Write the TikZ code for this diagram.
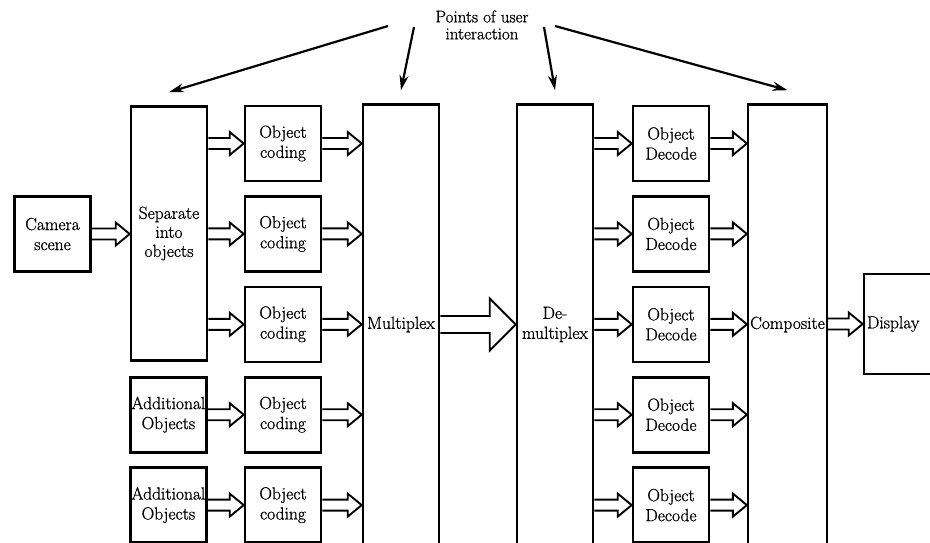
\documentclass[tikz,border=0pt]{standalone}
\usepackage{fontspec}
\newfontfamily\scanfont{Latin Modern Roman}[FakeBold=0.9]
\usepackage{tikz}
\usetikzlibrary{arrows.meta,positioning}

\begin{document}
\begin{tikzpicture}[
  x=1pt,y=-1pt,
  node distance=12.8pt and 36pt,
  >={Stealth[length=15pt,width=9pt]},
  box/.style={draw,line width=2.6pt,align=center,minimum width=76pt,
    minimum height=75pt,inner sep=2pt,font=\scanfont\fontsize{17.5}{20}\selectfont},
  tallbox/.style={box,minimum height=440pt},
  hollow/.style n args={3}{draw,line width=1.9pt,to path={
    ([yshift=#1]\tikztostart) -- ([xshift=-#3,yshift=#1]\tikztotarget)
    -- ([xshift=-#3,yshift=#2]\tikztotarget) -- (\tikztotarget)
    -- ([xshift=-#3,yshift=-#2]\tikztotarget) -- ([xshift=-#3,yshift=-#1]\tikztotarget)
    -- ([yshift=-#1]\tikztostart)}},
  feed/.style={hollow={5.5pt}{11.5pt}{14pt}},
  bigfeed/.style={hollow={8.5pt}{26pt}{26pt}},
  pointer/.style={->,line width=2.2pt}
]
\useasboundingbox (0,0) rectangle (930,542);

% input side
\node[box] (cam) at (52.5,234) {Camera\\scene};
\node[box,minimum height=254pt,font=\scanfont\fontsize{17.5}{19}\selectfont] (sep) at (169,233.5) {Separate\\into\\objects};
\node[box] (oc1) at (283,143.5) {Object\\coding};
\node[box,below=of oc1] (oc2) {Object\\coding};
\node[box,below=of oc2] (oc3) {Object\\coding};
\node[box,below=of oc3] (oc4) {Object\\coding};
\node[box,below=of oc4] (oc5) {Object\\coding};
\node[box,left=of oc4] (add4) {\makebox[70pt]{Additional}\\Objects};
\node[box,left=of oc5] (add5) {\makebox[70pt]{Additional}\\Objects};

% channel
\node[tallbox] (mux) at (401,324.5) {Multiplex};
\node[tallbox] (demux) at (555,324.5) {De-\\multiplex};

% output side
\node[box] (od1) at (671,143.5) {Object\\Decode};
\node[box,below=of od1] (od2) {Object\\Decode};
\node[box,below=of od2] (od3) {Object\\Decode};
\node[box,below=of od3] (od4) {Object\\Decode};
\node[box,below=of od4] (od5) {Object\\Decode};
\node[tallbox,minimum width=77pt] (comp) at (787.5,324.5) {Composite};
\node[box,minimum width=120pt,minimum height=100pt,text width=114pt,align=left] (disp) at (924,324) {Display};

\node[font=\scanfont\fontsize{17}{17}\selectfont,align=center] (ui) at (482,25) {Points of user\\interaction};

\draw[feed] (cam.east) to (sep.west |- cam.east);
\draw[feed] (sep.east |- oc1.west) to (oc1.west);
\draw[feed] (sep.east |- oc2.west) to (oc2.west);
\draw[feed] (sep.east |- oc3.west) to (oc3.west);
\draw[feed] (add4.east) to (oc4.west);
\draw[feed] (add5.east) to (oc5.west);
\draw[feed] (oc1.east) to (mux.west |- oc1.east);
\draw[feed] (oc2.east) to (mux.west |- oc2.east);
\draw[feed] (oc3.east) to (mux.west |- oc3.east);
\draw[feed] (oc4.east) to (mux.west |- oc4.east);
\draw[feed] (oc5.east) to (mux.west |- oc5.east);
\draw[bigfeed] (mux.east) to (demux.west);
\draw[feed] (demux.east |- od1.west) to (od1.west);
\draw[feed] (demux.east |- od2.west) to (od2.west);
\draw[feed] (demux.east |- od3.west) to (od3.west);
\draw[feed] (demux.east |- od4.west) to (od4.west);
\draw[feed] (demux.east |- od5.west) to (od5.west);
\draw[feed] (od1.east) to (comp.west |- od1.east);
\draw[feed] (od2.east) to (comp.west |- od2.east);
\draw[feed] (od3.east) to (comp.west |- od3.east);
\draw[feed] (od4.east) to (comp.west |- od4.east);
\draw[feed] (od5.east) to (comp.west |- od5.east);
\draw[feed] (comp.east |- disp.west) to (disp.west);

\draw[pointer] ([xshift=-94pt,yshift=-1pt]ui.center) -- ([yshift=13pt]sep.north);
\draw[pointer] ([xshift=-68pt,yshift=-2pt]ui.center) -- ([yshift=13pt]mux.north);
\draw[pointer] ([xshift=62pt,yshift=-2pt]ui.center) -- ([yshift=13pt]demux.north);
\draw[pointer] ([xshift=73pt,yshift=-1pt]ui.center) -- ([yshift=13pt]comp.north);
\end{tikzpicture}
\end{document}
